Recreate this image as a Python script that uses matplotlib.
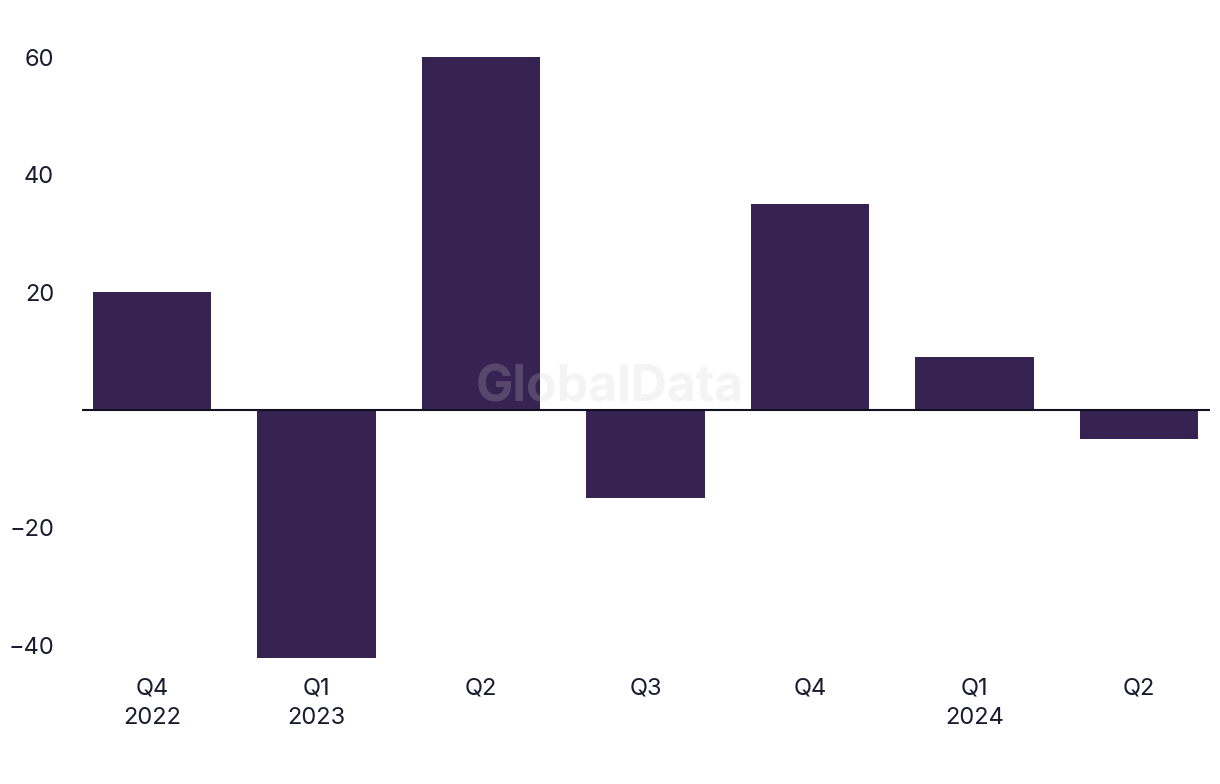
import matplotlib.pyplot as plt

quarters = ["Q4\n2022", "Q1\n2023", "Q2", "Q3", "Q4", "Q1\n2024", "Q2"]
values = [20, -42.2, 60, -15, 35, 9, -5]
yticks = [-40, -20, 20, 40, 60]

bar_color = "#372352"
text_color = "#1b1b2f"

plt.rcParams['font.family'] = ['Inter', 'DejaVu Sans']

fig = plt.figure(figsize=(12.2, 7.84), dpi=100)
ax = fig.add_axes([82 / 1220, 126 / 784, 1128 / 1220, 630 / 784])

x = list(range(len(values)))
ax.bar(x, values, width=0.72, color=bar_color, zorder=2)
ax.axhline(0, color="#111122", lw=1.5, zorder=3)

ax.set_xlim(-0.4255, 6.43)
ax.set_ylim(-42.2, 65)
ax.set_xticks(x)
ax.set_xticklabels(quarters, fontsize=17, color=text_color, linespacing=1.45)
ax.set_yticks(yticks)
ax.set_yticklabels([str(v).replace("-", "\u2212") for v in yticks],
                   fontsize=17, color=text_color)
ax.tick_params(axis="x", length=0, pad=14)
ax.tick_params(axis="y", length=0, pad=20)
for s in ax.spines.values():
    s.set_visible(False)

ax.text(0.468, 0.428, "GlobalData", transform=ax.transAxes, ha="center",
        va="center", fontsize=36, fontweight="bold", color="#cfcfcf",
        alpha=0.21, zorder=4)

fig.savefig("out.png", dpi=100)
